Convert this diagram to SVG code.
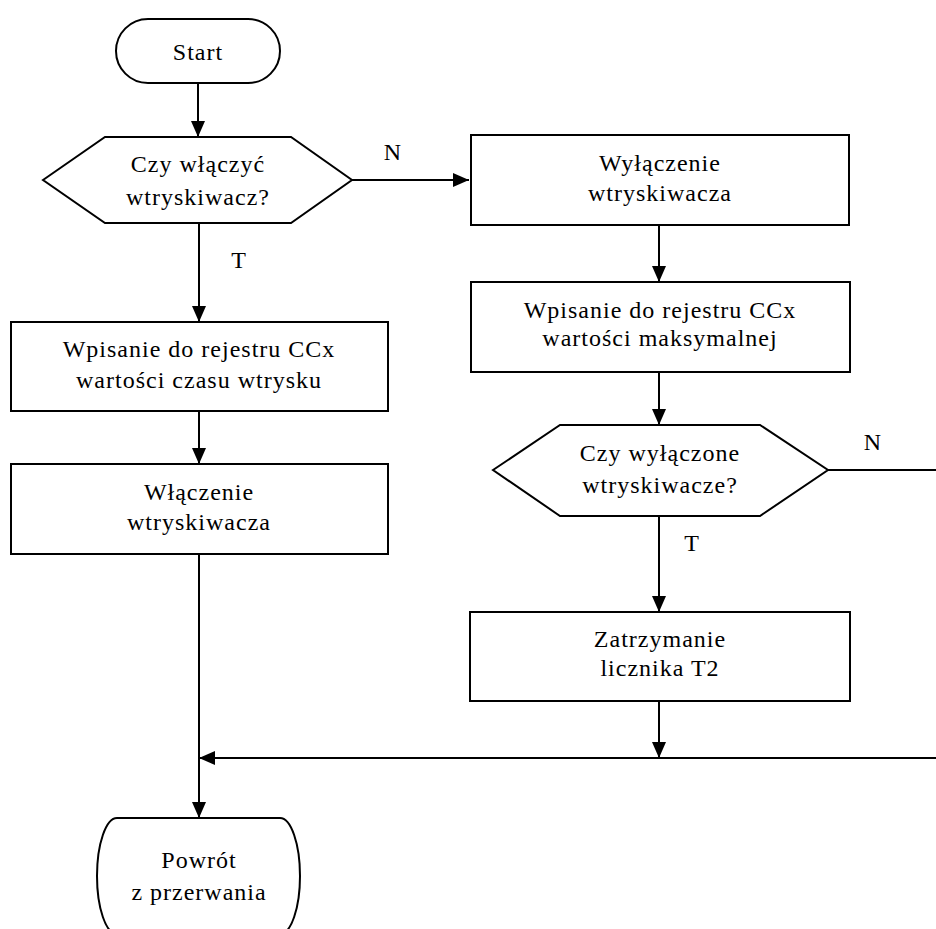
<svg xmlns="http://www.w3.org/2000/svg" width="936" height="929" viewBox="0 0 936 929">
<defs>
<marker id="ah" markerWidth="16" markerHeight="14" refX="16" refY="7" orient="auto" markerUnits="userSpaceOnUse">
<path d="M0,0 L16,7 L0,14 Z" fill="#000"/>
</marker>
<style>
.shape{fill:#fff;stroke:#000;stroke-width:2}
.conn{fill:none;stroke:#000;stroke-width:2}
.t{font-family:"Liberation Serif","Times New Roman",serif;font-size:24px;letter-spacing:1px;fill:#000;text-anchor:middle}
</style>
</defs>
<rect width="936" height="929" fill="#fff"/>
<g id="connectors">
<path class="conn" d="M198,83 V137" marker-end="url(#ah)"/>
<path class="conn" d="M352,180 H469" marker-end="url(#ah)"/>
<path class="conn" d="M199,223 V322" marker-end="url(#ah)"/>
<path class="conn" d="M199,411 V464" marker-end="url(#ah)"/>
<path class="conn" d="M199,554 V818" marker-end="url(#ah)"/>
<path class="conn" d="M659,225 V282" marker-end="url(#ah)"/>
<path class="conn" d="M659,372 V425" marker-end="url(#ah)"/>
<path class="conn" d="M659,516 V612" marker-end="url(#ah)"/>
<path class="conn" d="M659,701 V758" marker-end="url(#ah)"/>
<path class="conn" d="M828,470 H950 V758 H199" marker-end="url(#ah)"/>
<text class="t" x="393" y="160">N</text>
<text class="t" x="239" y="268">T</text>
<text class="t" x="873" y="450">N</text>
<text class="t" x="692" y="551">T</text>
</g>
<g id="start">
<rect class="shape" x="116" y="19" width="164" height="64" rx="32" ry="32"/>
<text class="t" x="198" y="60">Start</text>
</g>
<g id="decision1">
<polygon class="shape" points="43,180 105,137 291,137 352,180 291,223 105,223"/>
<text class="t" x="198" y="172">Czy włączyć</text>
<text class="t" x="198" y="205">wtryskiwacz?</text>
</g>
<g id="write-time">
<rect class="shape" x="11" y="322" width="377" height="89"/>
<text class="t" x="199" y="357">Wpisanie do rejestru CCx</text>
<text class="t" x="199" y="388">wartości czasu wtrysku</text>
</g>
<g id="enable">
<rect class="shape" x="11" y="464" width="377" height="90"/>
<text class="t" x="199" y="500">Włączenie</text>
<text class="t" x="199" y="530">wtryskiwacza</text>
</g>
<g id="disable">
<rect class="shape" x="471" y="135" width="378" height="90"/>
<text class="t" x="660" y="171">Wyłączenie</text>
<text class="t" x="660" y="201">wtryskiwacza</text>
</g>
<g id="write-max">
<rect class="shape" x="471" y="282" width="379" height="90"/>
<text class="t" x="660" y="318">Wpisanie do rejestru CCx</text>
<text class="t" x="660" y="346">wartości maksymalnej</text>
</g>
<g id="decision2">
<polygon class="shape" points="493,470 560,425 760,425 828,470 760,516 560,516"/>
<text class="t" x="660" y="461">Czy wyłączone</text>
<text class="t" x="660" y="493">wtryskiwacze?</text>
</g>
<g id="stop-timer">
<rect class="shape" x="470" y="612" width="380" height="89"/>
<text class="t" x="660" y="647">Zatrzymanie</text>
<text class="t" x="660" y="676">licznika T2</text>
</g>
<g id="return">
<rect class="shape" x="97" y="818" width="203" height="116" rx="20" ry="58"/>
<text class="t" x="199" y="868">Powrót</text>
<text class="t" x="199" y="900">z przerwania</text>
</g>
</svg>
